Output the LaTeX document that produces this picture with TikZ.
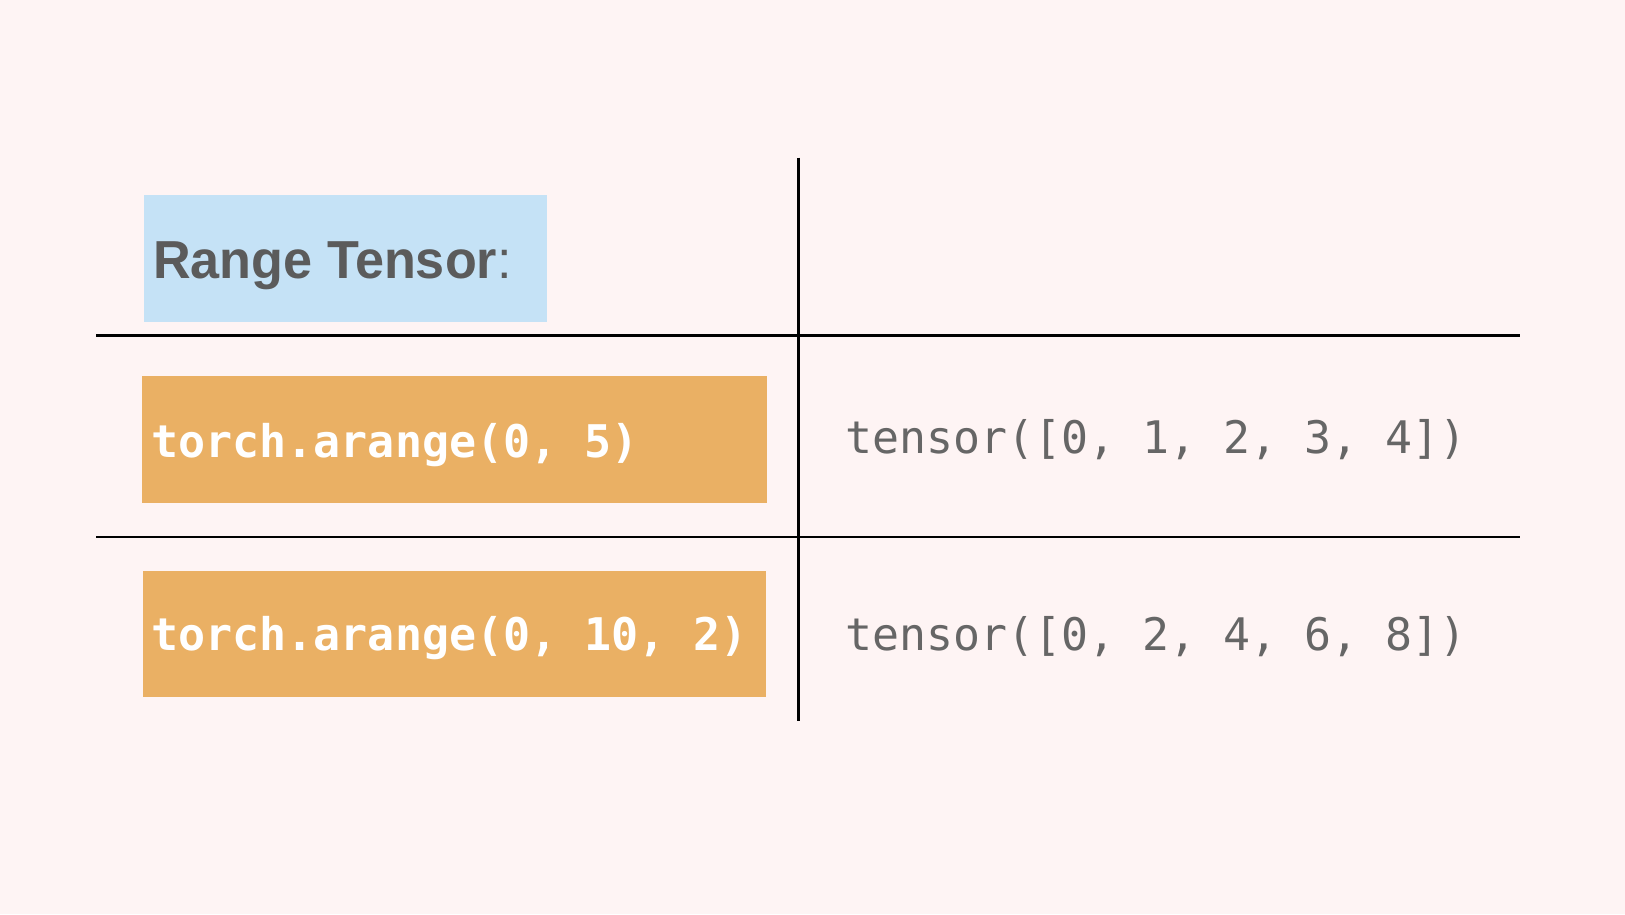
\documentclass[tikz,border=0pt]{standalone}
\usepackage{fontspec}
\setmainfont{Liberation Sans}
\newfontfamily\hdfont[FakeStretch=0.975]{Liberation Sans}
\newfontfamily\codefont{DejaVu Sans Mono}
\definecolor{bgpink}{HTML}{FEF4F4}
\definecolor{hdblue}{HTML}{C5E2F6}
\definecolor{codeorange}{HTML}{EAB064}
\definecolor{hdgray}{HTML}{5B5B5B}
\definecolor{outgray}{HTML}{666666}
\begin{document}
\begin{tikzpicture}[x=1pt,y=-1pt,
  cellbox/.style={draw=none, inner sep=0pt, outer sep=0pt, anchor=north west},
  hdtext/.style={inner sep=0pt, anchor=base west, text=hdgray, font=\hdfont\fontsize{53.5}{60}\selectfont},
  codetext/.style={inner sep=0pt, anchor=base west, text=white, font=\codefont\bfseries\fontsize{45}{50}\selectfont},
  outtext/.style={inner sep=0pt, anchor=base west, text=outgray, font=\codefont\fontsize{44.85}{50}\selectfont},
  gridthick/.style={line width=3pt, black},
  gridthin/.style={line width=2.4pt, black}]
\fill[bgpink] (0,0) rectangle (1625,914);
\useasboundingbox (0,0) rectangle (1625,914);
% boxes
\node[cellbox, fill=hdblue, minimum width=403pt, minimum height=127pt] (hdr) at (144,195) {};
\node[cellbox, fill=codeorange, minimum width=625pt, minimum height=127pt] (c1) at (142,376) {};
\node[cellbox, fill=codeorange, minimum width=623pt, minimum height=126pt] (c2) at (143,571) {};
% grid
\coordinate (vtop) at (798,157.5);
\coordinate (vbot) at (798,721);
\coordinate (h1l) at (96,335);
\coordinate (h1r) at (1520,335);
\coordinate (h2l) at (96,537);
\coordinate (h2r) at (1520,537);
\draw[gridthick] (h1l) -- (h1r);
\draw[gridthin] (h2l) -- (h2r);
\draw[gridthick] (vtop) -- (vbot);
% texts
\node[hdtext] (hdt) at (153,278.3) {\textbf{Range Tensor}:};
\node[codetext] (ct1) at (151,457) {torch.arange(0, 5)};
\node[codetext] (ct2) at (151,650) {torch.arange(0, 10, 2)};
\node[outtext] (ot1) at (845,453.3) {tensor([0, 1, 2, 3, 4])};
\node[outtext] (ot2) at (845,650.7) {tensor([0, 2, 4, 6, 8])};
\end{tikzpicture}
\end{document}
